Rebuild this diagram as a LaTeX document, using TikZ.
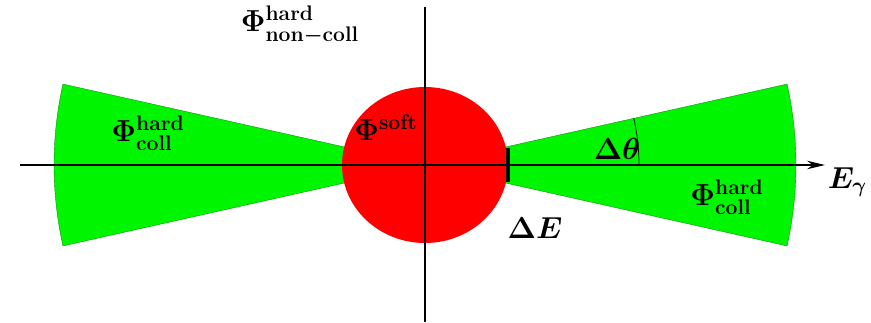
\documentclass[tikz,border=0pt]{standalone}
\usepackage{amsmath}
\usetikzlibrary{positioning,arrows.meta,calc}
\definecolor{ConeGreen}{RGB}{0,245,0}
\definecolor{SoftRed}{RGB}{255,0,0}

\begin{document}
\begin{tikzpicture}[every node/.style={font=\LARGE\boldmath, align=center}]
\tikzset{
  cone/.style={fill=ConeGreen, draw=green!55!black, line width=0.2pt},
  blob/.style={fill=SoftRed, draw=none},
  axis/.style={thick, black},
  axisarrow/.style={-{Stealth[length=3.6mm, width=1.7mm]}, thick, black}
}
  \useasboundingbox (-8.5,-3.14) rectangle (8.92,3.3);
  % collinear regions
  \path[cone] (0,0) -- (167.4:7.42) arc[start angle=167.4, end angle=192.6, radius=7.42] -- cycle;
  \path[cone] (0,0) -- (-12.6:7.42) arc[start angle=-12.6, end angle=12.6, radius=7.42] -- cycle;
  % soft region
  \path[blob] (0,0) ellipse[x radius=1.66, y radius=1.56];
  % axes
  \coordinate (xl) at (-8.1,0);
  \coordinate (xr) at (8.0,0);
  \coordinate (yt) at (0,3.16);
  \coordinate (yb) at (0,-3.14);
  \draw[axis] (yb) -- (yt);
  \draw[axisarrow] (xl) -- (xr);
  % energy cut
  \coordinate (cutT) at (1.66,0.34);
  \coordinate (cutB) at (1.66,-0.34);
  \draw[line width=2pt] (cutT) -- (cutB);
  % angle
  \draw[thin] (4.28,0) arc[start angle=0, end angle=12.6, radius=4.28];
  % labels
  \node (phiNC) at (-2.5,2.8) {$\Phi^{\textbf{hard}}_{\textbf{non$-$coll}}$};
  \node (phiSoft) at (-0.78,0.74) {$\Phi^{\textbf{soft}}$};
  \node (phiCollL) at (-5.54,0.64) {$\Phi^{\textbf{hard}}_{\textbf{coll}}$};
  \node (phiCollR) at (6.04,-0.64) {$\Phi^{\textbf{hard}}_{\textbf{coll}}$};
  \node (dTheta) at (3.84,0.32) {$\Delta\theta$};
  \node (dE) at (2.2,-1.26) {$\Delta E$};
  \node (Eg) at (8.45,-0.34) {$E_\gamma$};
\end{tikzpicture}
\end{document}
